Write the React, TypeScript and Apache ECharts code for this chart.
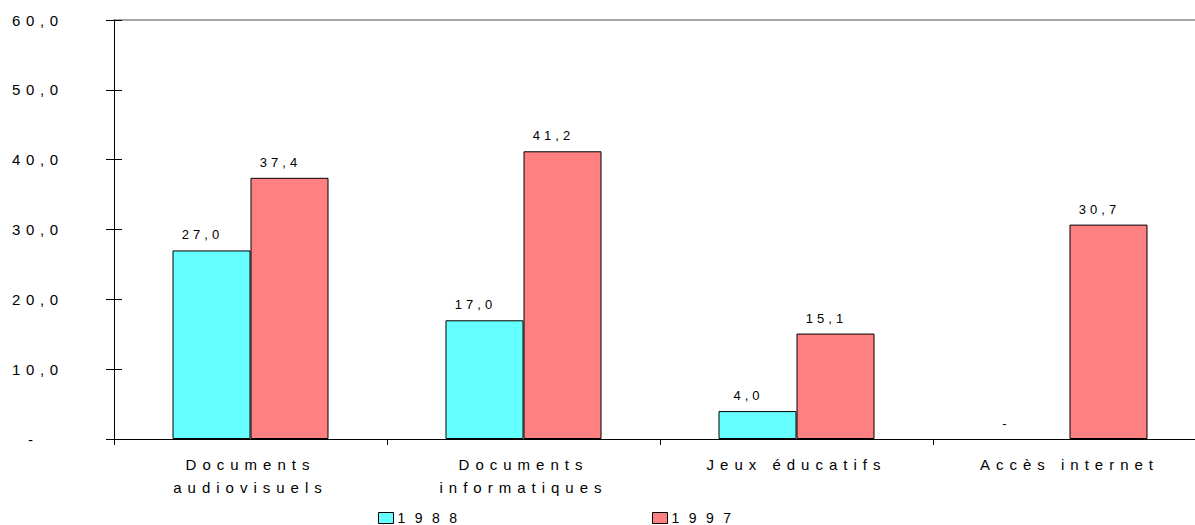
import React, { useEffect, useRef } from 'react';
import * as echarts from 'echarts';

const categories = ['Documents\naudiovisuels', 'Documents\ninformatiques', 'Jeux éducatifs', 'Accès internet'];
const seriesNames = ['1988', '1997'];
const values1988 = [27.0, 17.0, 4.0, 0];
const values1997 = [37.4, 41.2, 15.1, 30.7];
const yMin = 0;
const yMax = 60;
const yStep = 10;

const colors = ['#66FFFF', '#FF8080'];

const fmt = (v: number) => (v === 0 ? '-' : v.toFixed(1).replace('.', ','));

const FY = 'Liberation Sans, spy';
const FC = 'Liberation Sans, spc';
const FD = 'Liberation Sans, spd';
const FL = 'Liberation Sans, spl';

const css = `
#chartbox text[style*="spy"] { letter-spacing: 5.6px; }
#chartbox text[style*="spc"] { letter-spacing: 6px; }
#chartbox text[style*="spd"] { letter-spacing: 4px; }
#chartbox text[style*="spl"] { letter-spacing: 9.5px; }
`;

export default function App() {
  const ref = useRef<HTMLDivElement>(null);
  useEffect(() => {
    if (!ref.current) return;
    const chart = echarts.init(ref.current, null, { renderer: 'svg' });
    const label = {
      show: true,
      position: 'top',
      distance: 9,
      offset: [-9, 0],
      fontSize: 13,
      fontFamily: FD,
      color: '#000',
      formatter: (p: any) => fmt(p.value),
    };
    const mk = (vals: number[]) =>
      vals.map((v) =>
        v === 0
          ? {
              value: v,
              itemStyle: { color: 'transparent', borderWidth: 0 },
              label: { offset: [-24, 0] },
            }
          : v
      );
    const legendBase = {
      top: 511,
      padding: 0,
      itemWidth: 15,
      itemHeight: 11,
      itemGap: 0,
      icon: 'rect',
      itemStyle: { borderColor: '#000', borderWidth: 1 },
      textStyle: { fontSize: 14, fontFamily: FL, color: '#000', padding: [0, 0, 0, -1] },
    };
    chart.setOption({
      animation: false,
      backgroundColor: '#fff',
      grid: { left: 114, right: -11, top: 20, bottom: 86, containLabel: false, outerBoundsMode: 'none' },
      legend: [
        { ...legendBase, data: [seriesNames[0]], left: 378 },
        { ...legendBase, data: [seriesNames[1]], left: 652 },
      ],
      xAxis: [
        {
          type: 'category',
          data: categories,
          axisLine: { show: true, lineStyle: { color: '#000', width: 1 } },
          axisTick: { show: true, length: 6, lineStyle: { color: '#000' } },
          axisLabel: { interval: 0, fontSize: 15, fontFamily: FC, color: '#000', lineHeight: 23, margin: 14 },
          splitLine: { show: false },
        },
        {
          type: 'category',
          position: 'top',
          data: categories,
          axisLine: { show: true, onZero: false, lineStyle: { color: '#888', width: 1.5 } },
          axisTick: { show: false },
          axisLabel: { show: false },
          splitLine: { show: false },
        },
      ],
      yAxis: [
        {
          type: 'value',
          min: yMin,
          max: yMax,
          interval: yStep,
          axisLine: { show: true, lineStyle: { color: '#000' } },
          axisTick: { show: true, length: 8, lineStyle: { color: '#000' } },
          splitLine: { show: false },
          axisLabel: {
            align: 'left',
            margin: 102,
            fontSize: 15,
            fontFamily: FY,
            color: '#000',
            formatter: (v: number) => (v === 0 ? '{z|-}' : fmt(v)),
            rich: { z: { fontSize: 15, fontFamily: FY, color: '#000', padding: [0, 0, 0, 16] } },
          },
        },
        {
          type: 'value',
          position: 'left',
          min: yMin,
          max: yMax,
          interval: yStep,
          axisLine: { show: false },
          axisTick: { show: true, inside: true, length: 8, lineStyle: { color: '#000' } },
          splitLine: { show: false },
          axisLabel: { show: false },
        },
      ],
      series: [
        {
          name: seriesNames[0],
          type: 'bar',
          data: mk(values1988),
          barWidth: 78,
          barGap: '0%',
          itemStyle: { color: colors[0], borderColor: '#000', borderWidth: 1 },
          label,
        },
        {
          name: seriesNames[1],
          type: 'bar',
          data: mk(values1997),
          barWidth: 78,
          barGap: '0%',
          itemStyle: { color: colors[1], borderColor: '#000', borderWidth: 1 },
          label,
        },
      ],
    } as any);
    return () => chart.dispose();
  }, []);
  return (
    <>
      <style>{css}</style>
      <div
        id="chartbox"
        ref={ref}
        style={{ position: 'fixed', left: 0, top: 0, width: 1195, height: 525, background: '#fff' }}
      />
    </>
  );
}
